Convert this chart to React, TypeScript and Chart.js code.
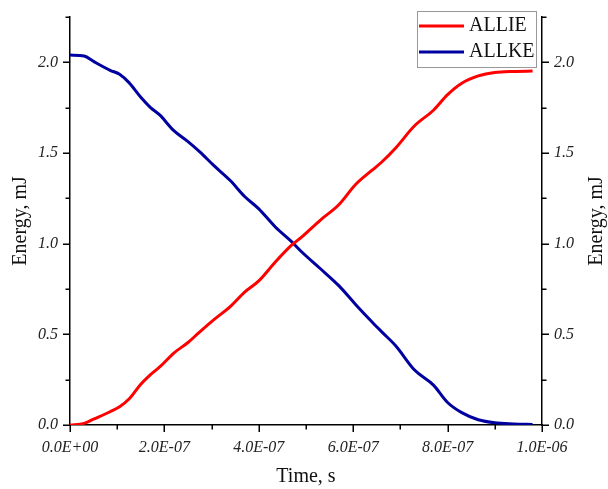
import React, { useEffect, useRef } from "react";
import { Chart, registerables } from "chart.js";

Chart.register(...registerables);

const timeSeconds = [
  0, 3e-8, 5e-8, 8.5e-8, 1.05e-7, 1.25e-7, 1.5e-7, 1.7e-7, 1.9e-7, 2.2e-7, 2.5e-7,
  2.75e-7, 3.05e-7, 3.4e-7, 3.7e-7, 4.0e-7, 4.35e-7, 4.7e-7, 4.9e-7, 5.3e-7, 5.7e-7,
  6.05e-7, 6.4e-7, 6.6e-7, 6.9e-7, 7.3e-7, 7.7e-7, 8.0e-7, 8.3e-7, 8.65e-7, 9.0e-7,
  9.4e-7, 9.8e-7,
];

const allieValues = [
  0, 0.009, 0.032, 0.073, 0.1, 0.143, 0.225, 0.277, 0.32, 0.397, 0.455,
  0.514, 0.581, 0.654, 0.733, 0.795, 0.899, 0.993, 1.035, 1.129, 1.216,
  1.326, 1.405, 1.449, 1.528, 1.65, 1.736, 1.822, 1.885, 1.925, 1.944,
  1.95, 1.952,
];

const allkeValues = [
  2.04, 2.035, 2.005, 1.956, 1.934, 1.888, 1.807, 1.752, 1.71, 1.623, 1.563,
  1.506, 1.43, 1.347, 1.26, 1.192, 1.092, 1.01, 0.957, 0.863, 0.767,
  0.665, 0.568, 0.515, 0.437, 0.303, 0.22, 0.124, 0.068, 0.029, 0.012,
  0.006, 0.003,
];

const seriesLabels = ["ALLIE", "ALLKE"];
const seriesColors = ["#FF0000", "#0000A0"];

const xMin = 0;
const xMax = 1e-6;
const xStep = 1e-7;
const yMin = 0;
const yMax = 2.25;
const yStep = 0.25;

const xTitle = "Time, s";
const yTitle = "Energy, mJ";

function fmtExp(v: number): string {
  const idx = Math.round(v / xStep);
  if (idx === 0) return "0.0E+00";
  const val = idx * xStep;
  const exp = Math.floor(Math.log10(val) + 1e-9);
  const mant = val / Math.pow(10, exp);
  const sign = exp < 0 ? "-" : "+";
  const e = Math.abs(exp).toString().padStart(2, "0");
  return mant.toFixed(1) + "E" + sign + e;
}

const serif = "'Liberation Serif', 'Times New Roman', serif";

const tickMarksPlugin = {
  id: "tickMarks",
  afterDraw(chart: any) {
    const ctx = chart.ctx;
    const area = chart.chartArea;
    ctx.save();
    ctx.strokeStyle = "#000";
    ctx.lineWidth = 1.5;
    const xs = chart.scales.x;
    xs.ticks.forEach((t: any) => {
      const idx = Math.round(t.value / xStep);
      const len = idx % 2 === 0 ? 7 : 4.5;
      const px = Math.round(xs.getPixelForValue(t.value)) + 0.25;
      ctx.beginPath();
      ctx.moveTo(px, area.bottom);
      ctx.lineTo(px, area.bottom + len);
      ctx.stroke();
    });
    const ys = chart.scales.y;
    ys.ticks.forEach((t: any) => {
      const idx = Math.round(t.value / yStep);
      const len = idx % 2 === 0 ? 7 : 4.5;
      const py = Math.round(ys.getPixelForValue(t.value)) + 0.25;
      ctx.beginPath();
      ctx.moveTo(area.left, py);
      ctx.lineTo(area.left - len, py);
      ctx.moveTo(area.right, py);
      ctx.lineTo(area.right + len, py);
      ctx.stroke();
    });
    ctx.restore();

    // right axis title (reads bottom-to-top like the left one)
    ctx.save();
    ctx.translate(597, (area.top + area.bottom) / 2);
    ctx.rotate(-Math.PI / 2);
    ctx.font = "20px " + serif;
    ctx.fillStyle = "#111";
    ctx.textAlign = "center";
    ctx.textBaseline = "middle";
    ctx.fillText(yTitle, 0, 0);
    ctx.restore();

    // legend box
    ctx.save();
    const bx = 417, by = 11, bw = 119, bh = 56;
    ctx.strokeStyle = "#999";
    ctx.lineWidth = 1;
    ctx.strokeRect(bx + 0.5, by + 0.5, bw, bh);
    ctx.font = "20px " + serif;
    ctx.textBaseline = "middle";
    ctx.textAlign = "left";
    chart.data.datasets.forEach((ds: any, i: number) => {
      const cy = 26 + i * 26;
      ctx.strokeStyle = ds.borderColor;
      ctx.lineWidth = 3;
      ctx.beginPath();
      ctx.moveTo(419, cy);
      ctx.lineTo(464, cy);
      ctx.stroke();
      ctx.fillStyle = "#111";
      ctx.fillText(ds.label, 469, cy);
    });
    ctx.restore();
  },
};

function yTicksCfg() {
  return {
    autoSkip: false,
    padding: 5,
    color: "#222",
    font: { family: serif, size: 16, style: "italic" as const },
    callback: (v: any) => {
      const idx = Math.round(Number(v) / yStep);
      return idx % 2 === 0 ? (idx * yStep).toFixed(1) : "";
    },
  };
}

function buildYTicks(s: any) {
  const arr = [];
  for (let i = 0; i <= Math.round((yMax - yMin) / yStep); i++) arr.push({ value: yMin + i * yStep });
  s.ticks = arr;
}

export default function App() {
  const ref = useRef<HTMLCanvasElement | null>(null);
  useEffect(() => {
    if (!ref.current) return;
    const series = [allieValues, allkeValues];
    const chart = new Chart(ref.current, {
      type: "line",
      data: {
        datasets: series.map((vals, i) => ({
          label: seriesLabels[i],
          data: timeSeconds.map((t, j) => ({ x: t, y: vals[j] })),
          borderColor: seriesColors[i],
          backgroundColor: seriesColors[i],
          borderWidth: 3,
          pointRadius: 0,
          cubicInterpolationMode: "monotone" as const,
          fill: false,
          yAxisID: "y",
        })),
      },
      options: {
        responsive: false,
        animation: false,
        layout: { padding: { top: 17, left: 0, right: 0, bottom: 0 } },
        plugins: {
          legend: { display: false },
          tooltip: { enabled: false },
        },
        scales: {
          x: {
            type: "linear",
            min: xMin,
            max: xMax,
            afterFit: (s: any) => {
              s.height = 64;
            },
            afterBuildTicks: (s: any) => {
              const arr = [];
              for (let i = 0; i <= Math.round((xMax - xMin) / xStep); i++) arr.push({ value: xMin + i * xStep });
              s.ticks = arr;
            },
            ticks: {
              autoSkip: false,
              maxRotation: 0,
              padding: 6,
              color: "#222",
              font: { family: serif, size: 16, style: "italic" },
              callback: (v: any) => {
                const idx = Math.round(Number(v) / xStep);
                return idx % 2 === 0 ? fmtExp(Number(v)) : "";
              },
            },
            grid: { drawOnChartArea: false, drawTicks: true, tickLength: 7, color: "rgba(0,0,0,0)" },
            border: { display: true, color: "#000", width: 1.5 },
            title: {
              display: true,
              text: xTitle,
              color: "#111",
              font: { family: serif, size: 20 },
              padding: { top: 0, bottom: 0 },
            },
          },
          y: {
            type: "linear",
            position: "left",
            min: yMin,
            max: yMax,
            afterFit: (s: any) => {
              s.width = 70;
            },
            afterBuildTicks: buildYTicks,
            ticks: yTicksCfg(),
            grid: { drawOnChartArea: false, drawTicks: true, tickLength: 7, color: "rgba(0,0,0,0)" },
            border: { display: true, color: "#000", width: 1.5 },
            title: {
              display: true,
              text: yTitle,
              color: "#111",
              font: { family: serif, size: 20 },
              padding: { top: 9, bottom: 0 },
            },
          },
          y2: {
            type: "linear",
            position: "right",
            min: yMin,
            max: yMax,
            afterFit: (s: any) => {
              s.width = 66;
            },
            afterBuildTicks: buildYTicks,
            ticks: yTicksCfg(),
            grid: { drawOnChartArea: false, drawTicks: true, tickLength: 7, color: "rgba(0,0,0,0)" },
            border: { display: true, color: "#000", width: 1.5 },
            title: { display: false },
          },
        },
      },
      plugins: [tickMarksPlugin],
    });
    return () => chart.destroy();
  }, []);
  return (
    <div style={{ position: "absolute", left: 0, top: 0, width: 608, height: 489, background: "#fff" }}>
      <canvas ref={ref} width={608} height={489} style={{ width: 608, height: 489 }} />
    </div>
  );
}
